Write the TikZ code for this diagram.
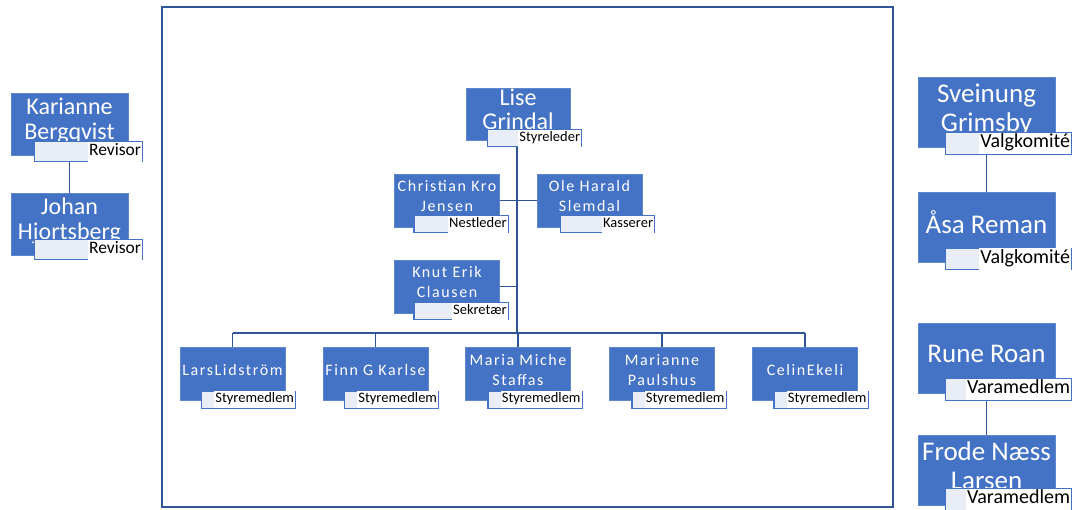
\documentclass[tikz,border=0pt]{standalone}
\usepackage{fontspec}
\setmainfont{Carlito}
\newfontfamily\widefont[LetterSpace=10]{Carlito}
\usetikzlibrary{positioning,backgrounds}
\definecolor{boxblue}{RGB}{68,114,196}
\definecolor{lineblue}{RGB}{47,85,151}
\definecolor{rolefill}{RGB}{232,237,246}
\newcommand{\rolebox}[1]{\setlength{\fboxsep}{1pt}\colorbox{white}{\strut #1}}

\tikzset{
  member/.style={fill=boxblue, draw=boxblue!85!white, line width=0.8pt, text=white, align=center, inner sep=0pt},
  board/.style={member, minimum width=105pt, minimum height=53pt, text depth=9pt, font=\widefont\fontsize{16}{20}\selectfont},
  chair/.style={member, minimum width=104pt, minimum height=52pt, text depth=10pt, font=\fontsize{24}{24}\selectfont},
  outer/.style={member, minimum width=117pt, minimum height=62pt, text depth=10pt, font=\fontsize{24}{25}\selectfont},
  side/.style={member, minimum width=137pt, minimum height=70pt, text depth=9pt, font=\fontsize{27}{29}\selectfont},
  role/.style={draw=boxblue, line width=1.3pt, fill=rolefill, text=black, anchor=south east,
    text width=#1, align=right, inner xsep=0.7pt, inner ysep=0pt},
  boardrole/.style={role=93pt, font=\fontsize{14.5}{15}\selectfont},
  outerrole/.style={role=107pt, font=\fontsize{17.5}{18}\selectfont},
  siderole/.style={role=125pt, font=\fontsize{20}{19}\selectfont},
  link/.style={draw=lineblue, line width=1.8pt},
  sidelink/.style={draw=lineblue, line width=1.3pt},
  frame/.style={draw=lineblue, line width=1.5pt}
}

\begin{document}
\begin{tikzpicture}[x=1pt, y=-1pt]
\useasboundingbox (0,0) rectangle (1073,510);
\draw[frame] (162,7) rectangle (893,507);

% styret
\node[chair] (lise) at (518,114) {Lise\\Grindal};
\node[boardrole] at ([shift={(12,7)}]lise.south east) {\rolebox{Styreleder}};
\node[board] (chris) at (447,200.5) {Christian Kro\\Jensen};
\node[boardrole] at ([shift={(9,6)}]chris.south east) {\rolebox{Nestleder}};
\node[board] (ole) at (589.5,200.5) {Ole Harald\\Slemdal};
\node[boardrole] at ([shift={(13,6)}]ole.south east) {\rolebox{Kasserer}};
\node[board] (knut) at (447,286.5) {Knut Erik\\Clausen};
\node[boardrole] at ([shift={(9,7)}]knut.south east) {\rolebox{Sekretær}};
\coordinate (bus) at (517,333);
\node[board] (lars) at (232.5,374) {LarsLidström};
\node[boardrole] at ([shift={(11,8)}]lars.south east) {\rolebox{Styremedlem}};
\node[board] (finn) at (375.5,374) {Finn G Karlse};
\node[boardrole] at ([shift={(11,8)}]finn.south east) {\rolebox{Styremedlem}};
\node[board] (maria) at (518,374) {Maria Miche\\Staffas};
\node[boardrole] at ([shift={(12,8)}]maria.south east) {\rolebox{Styremedlem}};
\node[board] (marianne) at (662,374) {Marianne\\Paulshus};
\node[boardrole] at ([shift={(12,8)}]marianne.south east) {\rolebox{Styremedlem}};
\node[board] (celin) at (805,374) {CelinEkeli};
\node[boardrole] at ([shift={(11,8)}]celin.south east) {\rolebox{Styremedlem}};

% revisorer
\node[outer] (karianne) at (69.5,124) {Karianne\\Bergqvist};
\node[outerrole] at ([shift={(15,7)}]karianne.south east) {\rolebox{Revisor}};
\node[outer] (johan) at (69.5,224) {Johan\\Hjortsberg};
\node[outerrole] at ([shift={(15,5)}]johan.south east) {\rolebox{Revisor}};

% valgkomite og varamedlemmer
\node[side] (sveinung) at (986.5,112.5) {Sveinung\\Grimsby};
\node[siderole] at ([shift={(17,7)}]sveinung.south east) {\rolebox{Valgkomité}};
\node[side] (asa) at (986.5,227) {Åsa Reman};
\node[siderole] at ([shift={(17,8)}]asa.south east) {\rolebox{Valgkomité}};
\node[side] (rune) at (986.5,358.5) {Rune Roan};
\node[siderole] at ([shift={(17,7)}]rune.south east) {\rolebox{Varamedlem}};
\node[side] (frode) at (986.5,470.5) {Frode Næss\\Larsen};
\node[siderole] at ([shift={(17,5)}]frode.south east) {\rolebox{Varamedlem}};

\begin{scope}[on background layer]
  \draw[link] (lise.south -| bus) -- (bus);
  \draw[link] (chris.east) -- (ole.west);
  \draw[link] (knut.east) -- (knut.east -| bus);
  \draw[link] (lars.north |- bus) -- (celin.north |- bus);
  \foreach \m in {lars,finn,maria,marianne,celin}
    \draw[link] (\m.north |- bus) -- (\m.north);
  \draw[sidelink] (karianne.south) -- (johan.north);
  \draw[sidelink] (sveinung.south) -- (asa.north);
  \draw[sidelink] (rune.south) -- (frode.north);
\end{scope}
\end{tikzpicture}
\end{document}
